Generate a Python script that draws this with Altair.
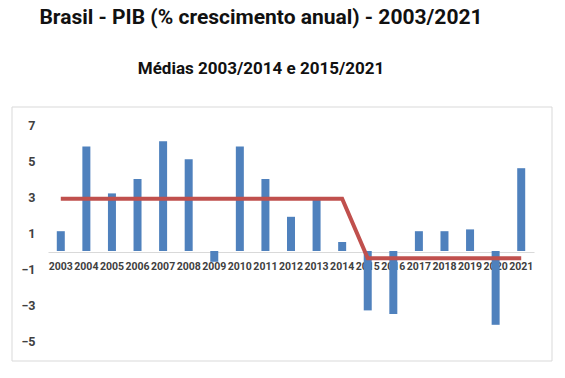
import altair as alt
import pandas as pd

years = [str(y) for y in range(2003, 2022)]
growth = [1.1, 5.8, 3.2, 4.0, 6.1, 5.1, -0.6, 5.8, 4.0, 1.9, 3.0, 0.5,
          -3.3, -3.5, 1.1, 1.1, 1.2, -4.1, 4.6]
period_labels = ["2003/2014", "2015/2021"]
period_means = [2.9, -0.4]
period_split_year = 2015

df = pd.DataFrame({"ano": years, "pib": growth})
df["media"] = [period_means[0] if int(y) < period_split_year else period_means[1] for y in years]

label_font = "Roboto"
x_sort = years

base = alt.Chart(df)

bars = base.mark_bar(color="#4F81BD", size=8).encode(
    x=alt.X("ano:N", sort=x_sort, title=None,
            scale=alt.Scale(paddingInner=0.0, paddingOuter=0.0),
            axis=alt.Axis(orient="bottom", offset=-107, labelAngle=0,
                          domainColor="#d9d9d9", domainWidth=1, ticks=False,
                          labelFont=label_font, labelFontSize=10.5,
                          labelFontWeight="bold", labelColor="#404040",
                          labelPadding=9, labelOverlap=False)),
    y=alt.Y("pib:Q", title=None,
            scale=alt.Scale(domain=[-6, 8], nice=False, zero=False),
            axis=alt.Axis(values=[7, 5, 3, 1, -1, -3, -5], grid=False,
                          domain=False, ticks=False,
                          labelFont=label_font, labelFontSize=12.5,
                          labelFontWeight="bold", labelColor="#404040",
                          labelPadding=13)),
)

line = base.mark_line(color="#C0504D", strokeWidth=4).encode(
    x=alt.X("ano:N", sort=x_sort),
    y=alt.Y("media:Q"),
)

frame = alt.Chart(alt.Data(values=[{}])).mark_rect(
    fill=None, stroke="#d9d9d9", strokeWidth=1, clip=False
).encode(
    x=alt.value(-36), x2=alt.value(504),
    y=alt.value(0), y2=alt.value(254),
)

chart = alt.layer(frame, bars, line).properties(
    width=486,
    height=252,
    background="white",
    padding={"left": 48, "top": 107, "right": 31, "bottom": 19},
    autosize=alt.AutoSizeParams(type="none"),
    title=alt.TitleParams(
        text="Brasil - PIB (% crescimento anual) - 2003/2021",
        subtitle="Médias " + period_labels[0] + " e " + period_labels[1],
        anchor="middle", dx=-30, offset=30,
        font=label_font, fontSize=21, fontWeight="bold", color="#111111",
        subtitleFont=label_font, subtitleFontSize=17, subtitleFontWeight="bold",
        subtitleColor="#111111", subtitlePadding=33,
    ),
).configure_view(strokeWidth=0, stroke="transparent")

chart.save("out.html", embed_options={"renderer": "svg", "actions": False})
